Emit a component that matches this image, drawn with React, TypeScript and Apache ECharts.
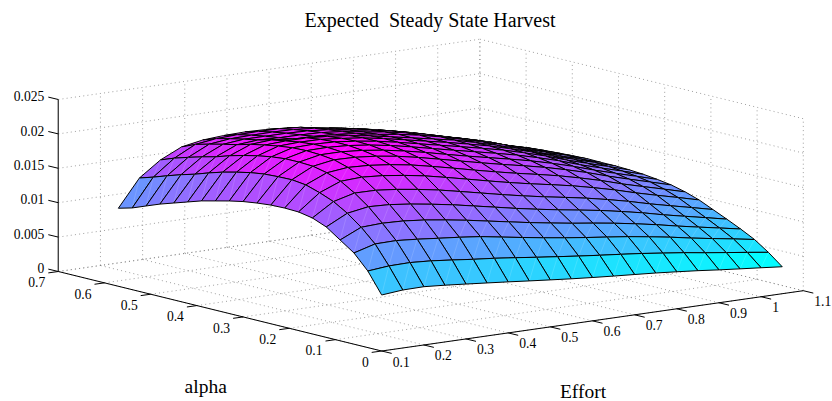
import React, { useEffect, useRef } from "react";
import * as echarts from "echarts";

const titleText = "Expected  Steady State Harvest";
const effortGrid = [0.1,0.15,0.2,0.25,0.3,0.35,0.4,0.45,0.5,0.55,0.6,0.65,0.7,0.75,0.8,0.85,0.9,0.95,1,1.05];
const alphaGrid = [0,0.03,0.06,0.09,0.12,0.15,0.18,0.21,0.24,0.27,0.3,0.33,0.36,0.39,0.42,0.45,0.48,0.51,0.54,0.57];
const effortTicks = [0.1,0.2,0.3,0.4,0.5,0.6,0.7,0.8,0.9,1,1.1];
const alphaTicks = [0,0.1,0.2,0.3,0.4,0.5,0.6,0.7];
const zTicks = [0,0.005,0.01,0.015,0.02,0.025];

// one row per alpha, one column per effort
const harvest = [
[.00814,.00843,.00847,.00825,.00798,.00770,.00742,.00712,.00683,.00655,.00630,.00607,.00586,.00564,.00538,.00510,.00478,.00449,.00421,.00392],
[.01113,.01143,.01148,.01129,.01098,.01064,.01035,.01000,.00962,.00927,.00892,.00860,.00830,.00798,.00760,.00722,.00677,.00636,.00595,.00552],
[.01326,.01413,.01418,.01394,.01364,.01335,.01300,.01250,.01200,.01152,.01108,.01068,.01031,.00993,.00947,.00898,.00841,.00790,.00741,.00689],
[.01465,.01606,.01621,.01610,.01580,.01537,.01489,.01433,.01378,.01323,.01273,.01226,.01184,.01139,.01087,.01030,.00966,.00907,.00850,.00792],
[.01605,.01760,.01811,.01798,.01762,.01716,.01664,.01603,.01542,.01480,.01424,.01372,.01324,.01275,.01216,.01153,.01080,.01015,.00951,.00886],
[.01686,.01880,.01960,.01957,.01926,.01882,.01829,.01764,.01698,.01631,.01569,.01511,.01459,.01404,.01340,.01270,.01190,.01118,.01048,.00976],
[.01724,.01960,.02082,.02098,.02076,.02036,.01985,.01919,.01850,.01780,.01713,.01651,.01594,.01534,.01463,.01387,.01300,.01221,.01145,.01066],
[.01731,.02024,.02156,.02190,.02176,.02142,.02094,.02029,.01960,.01888,.01819,.01754,.01694,.01630,.01555,.01474,.01381,.01298,.01217,.01133],
[.01725,.02049,.02201,.02251,.02244,.02216,.02171,.02110,.02041,.01970,.01900,.01833,.01770,.01703,.01625,.01540,.01444,.01356,.01271,.01184],
[.01705,.02044,.02212,.02275,.02274,.02251,.02210,.02154,.02089,.02017,.01948,.01882,.01817,.01748,.01668,.01581,.01482,.01392,.01305,.01215],
[.01677,.02033,.02211,.02285,.02289,.02272,.02235,.02184,.02121,.02052,.01984,.01918,.01852,.01782,.01700,.01612,.01510,.01419,.01330,.01239],
[.01636,.02004,.02190,.02277,.02285,.02275,.02242,.02197,.02138,.02072,.02007,.01942,.01875,.01805,.01722,.01632,.01530,.01437,.01347,.01254],
[.01587,.01961,.02155,.02253,.02266,.02262,.02233,.02196,.02142,.02080,.02017,.01955,.01887,.01816,.01732,.01642,.01539,.01446,.01356,.01262],
[.01538,.01912,.02110,.02218,.02234,.02235,.02212,.02181,.02132,.02074,.02015,.01955,.01895,.01816,.01732,.01642,.01539,.01446,.01356,.01262],
[.01473,.01851,.02057,.02179,.02200,.02168,.02163,.02148,.02116,.02061,.02017,.01961,.01892,.01812,.01732,.01647,.01544,.01450,.01360,.01266],
[.01408,.01783,.01992,.02124,.02148,.02138,.02135,.02125,.02096,.02046,.02002,.01946,.01877,.01797,.01717,.01637,.01534,.01441,.01351,.01258],
[.01343,.01726,.01942,.02081,.02111,.02110,.02109,.02100,.02072,.02023,.01979,.01923,.01854,.01774,.01694,.01615,.01515,.01428,.01339,.01247],
[.01266,.01661,.01885,.02033,.02068,.02075,.02077,.02070,.02044,.01991,.01947,.01891,.01822,.01742,.01662,.01590,.01495,.01408,.01326,.01235],
[.01188,.01592,.01824,.01980,.02021,.02034,.02038,.02034,.02009,.01952,.01908,.01852,.01783,.01703,.01623,.01551,.01464,.01376,.01295,.01219],
[.01134,.01530,.01749,.01894,.01950,.01972,.01980,.01972,.01950,.01907,.01863,.01807,.01738,.01658,.01578,.01506,.01419,.01331,.01250,.01177],
];

const SERIF = "'Liberation Serif','Times New Roman',serif";
const EMIN = 0.1, EMAX = 1.1, AMAX = 0.7, ZMAX = 0.025;
const project = (e: number, a: number, z: number): [number, number] => [
  381.7 + (e - EMIN) * 421.6 - (a / AMAX) * 323.4,
  351 - (e - EMIN) * 60.3 - (a / AMAX) * 79.5 - (z / ZMAX) * 172,
];

const allZ = harvest.flat();
const zLo = Math.min(...allZ), zHi = Math.max(...allZ);
const cool = (z: number) => {
  const t = (z - zLo) / (zHi - zLo);
  return `rgb(${Math.round(255 * t)},${Math.round(255 * (1 - t))},255)`;
};

const cellData: number[][] = [];
for (let k = alphaGrid.length - 2; k >= 0; k--)
  for (let i = effortGrid.length - 2; i >= 0; i--) cellData.push([i, k]);

const gridData: number[][] = [];
for (const z of zTicks) {
  gridData.push([EMIN, AMAX, z, EMAX, AMAX, z]);
  gridData.push([EMAX, AMAX, z, EMAX, 0, z]);
}
for (const e of effortTicks) {
  if (e > EMIN) gridData.push([e, AMAX, 0, e, AMAX, ZMAX]);
  gridData.push([e, 0, 0, e, AMAX, 0]);
}
for (const a of alphaTicks) {
  gridData.push([EMAX, a, 0, EMAX, a, ZMAX]);
  gridData.push([EMIN, a, 0, EMAX, a, 0]);
}

const axisData: number[][] = [
  [EMIN, AMAX, 0, EMIN, AMAX, ZMAX, 0],
  [EMIN, AMAX, 0, EMIN, 0, 0, 1],
  [EMIN, 0, 0, EMAX, 0, 0, 1],
];

const tickItems: any[] = [
  ...zTicks.map((v) => ({ kind: "z", v, label: String(v) })),
  ...alphaTicks.map((v) => ({ kind: "a", v, label: String(v) })),
  ...effortTicks.map((v) => ({ kind: "e", v, label: String(v) })),
];

export default function App() {
  const ref = useRef<HTMLDivElement>(null);
  useEffect(() => {
    const chart = echarts.init(ref.current!, undefined, { renderer: "svg" });
    const toPx = (api: any, e: number, a: number, z: number) => api.coord(project(e, a, z));
    chart.setOption({
      animation: false,
      backgroundColor: "#fff",
      title: {
        text: titleText,
        left: 425,
        top: 5,
        textAlign: "center",
        textStyle: { fontFamily: SERIF, fontWeight: "normal", fontSize: 20, color: "#000" },
      },
      grid: { left: 0, right: 0, top: 0, bottom: 0 },
      xAxis: { type: "value", min: 0, max: 832, show: false },
      yAxis: { type: "value", min: 0, max: 401, inverse: true, show: false },
      graphic: [
        { type: "text", x: 205.7, y: 386, style: { text: "alpha", fontFamily: SERIF, fontSize: 19.5, fill: "#000", align: "center", verticalAlign: "middle" } },
        { type: "text", x: 583, y: 391, style: { text: "Effort", fontFamily: SERIF, fontSize: 19.5, fill: "#000", align: "center", verticalAlign: "middle" } },
      ],
      series: [
        {
          type: "custom", silent: true, clip: false, z: 1, data: gridData,
          renderItem: (_: any, api: any) => {
            const p = toPx(api, api.value(0), api.value(1), api.value(2));
            const q = toPx(api, api.value(3), api.value(4), api.value(5));
            return { type: "line", shape: { x1: p[0], y1: p[1], x2: q[0], y2: q[1] },
              style: { stroke: "#777", lineWidth: 0.7, lineDash: [1, 3.2], fill: "none" } };
          },
        },
        {
          type: "custom", silent: true, clip: false, z: 2, data: axisData,
          renderItem: (_: any, api: any) => {
            const p = toPx(api, api.value(0), api.value(1), api.value(2));
            const q = toPx(api, api.value(3), api.value(4), api.value(5));
            const dark = api.value(6);
            return { type: "line", shape: { x1: p[0], y1: p[1], x2: q[0], y2: q[1] },
              style: { stroke: dark ? "#000" : "#444", lineWidth: dark ? 1 : 1.4, fill: "none" } };
          },
        },
        {
          type: "custom", silent: true, clip: false, z: 2, data: tickItems.map((t, i) => [i]),
          renderItem: (params: any, api: any) => {
            const t = tickItems[params.dataIndex];
            const p = t.kind === "z" ? toPx(api, EMIN, AMAX, t.v) : t.kind === "a" ? toPx(api, EMIN, t.v, 0) : toPx(api, t.v, 0, 0);
            const d = t.kind === "z" ? [-10, -2.4] : t.kind === "a" ? [-10, 1.4] : [10, 2.4];
            const l = t.kind === "z" ? { x: p[0] - 14, y: p[1] - 2.8, align: "right" }
              : t.kind === "a" ? { x: p[0] - 13, y: p[1] + 11.3, align: "right" }
              : { x: p[0] + 11, y: p[1] + 11, align: "left" };
            return { type: "group", children: [
              { type: "line", shape: { x1: p[0], y1: p[1], x2: p[0] + d[0], y2: p[1] + d[1] }, style: { stroke: "#000", lineWidth: 1, fill: "none" } },
              { type: "text", x: l.x, y: l.y, style: { text: t.label, fontFamily: SERIF, fontSize: 13.6, fill: "#000", align: l.align, verticalAlign: "middle" } },
            ] };
          },
        },
        {
          type: "custom", silent: true, clip: false, z: 3, data: cellData,
          renderItem: (_: any, api: any) => {
            const i = api.value(0), k = api.value(1);
            const pt = (ii: number, kk: number) => toPx(api, effortGrid[ii], alphaGrid[kk], harvest[kk][ii]);
            const a = pt(i, k), b = pt(i + 1, k), c = pt(i + 1, k + 1), d = pt(i, k + 1);
            return { type: "group", children: [
              { type: "polygon", shape: { points: [a, b, c, d] }, style: { fill: cool(harvest[k][i]), stroke: "#000", lineWidth: 1, lineJoin: "round" } },
              { type: "line", shape: { x1: a[0], y1: a[1], x2: c[0], y2: c[1] }, style: { stroke: "rgba(255,255,255,0.2)", lineWidth: 0.7, fill: "none" } },
            ] };
          },
        },
      ],
    });
    return () => chart.dispose();
  }, []);
  return <div ref={ref} style={{ position: "absolute", left: 0, top: 0, width: 832, height: 401 }} />;
}
